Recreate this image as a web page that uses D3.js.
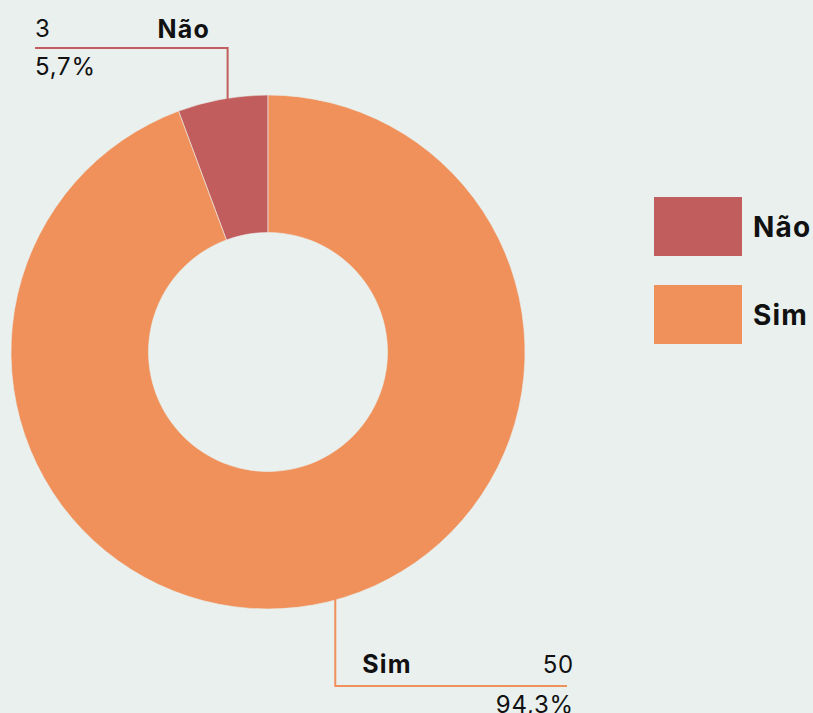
<!DOCTYPE html>
<html><head><meta charset="utf-8">
<script src="https://cdn.jsdelivr.net/npm/d3@7"></script>
<style>
html,body{margin:0;padding:0;background:#E9F0ED;}
svg{display:block;font-family:Inter,"Open Sans",sans-serif;}
</style></head><body>
<svg id="c" width="813" height="713"></svg>
<script>
const categories = ["Não", "Sim"];
const values = [3, 50];
const percentLabels = ["5,7%", "94,3%"];
const colors = ["#C25D5D", "#F0905A"];

const W = 813, H = 713;
const cx = 268, cy = 352, R = 257, r = 119.5;
const svg = d3.select("#c");
svg.append("rect").attr("width", W).attr("height", H).attr("fill", "#E9F0ED");

const total = d3.sum(values);
const start = -2 * Math.PI * values[0] / total;
const pie = d3.pie().sort(null).startAngle(start).endAngle(start + 2 * Math.PI);
const arcs = pie(values);
const arc = d3.arc().innerRadius(r).outerRadius(R);

const g = svg.append("g").attr("transform", `translate(${cx},${cy})`);
g.selectAll("path").data(arcs).join("path")
  .attr("d", arc)
  .attr("fill", (d, i) => colors[i])
  .attr("stroke", "#E9F0ED").attr("stroke-width", 0.6);

function anchor(d, shift) {
  const a = (d.startAngle + d.endAngle) / 2 + shift;
  return [cx + R * Math.sin(a), cy - R * Math.cos(a)];
}
const LS = 0.8;
// Não (top)
{
  const d = arcs[0];
  const [ax, ay] = anchor(d, 0.02);
  const lineY = 48, leftX = 35;
  svg.append("polyline")
    .attr("points", `${ax},${ay + 2} ${ax},${lineY} ${leftX},${lineY}`)
    .attr("fill", "none").attr("stroke", colors[0]).attr("stroke-width", 2);
  svg.append("text").attr("x", leftX).attr("y", 37).attr("font-size", 24)
    .attr("letter-spacing", LS).attr("fill", "#111").text(values[0]);
  svg.append("text").attr("x", leftX).attr("y", 75).attr("font-size", 24)
    .attr("letter-spacing", LS).attr("fill", "#111").text(percentLabels[0]);
  svg.append("text").attr("x", ax - 70).attr("y", 38).attr("font-size", 25)
    .attr("letter-spacing", 1.2).attr("font-weight", 700)
    .attr("fill", "#111").text(categories[0]);
}
// Sim (bottom)
{
  const d = arcs[1];
  const [ax, ay] = anchor(d, -0.087);
  const lineY = 686, rightX = 567;
  svg.append("polyline")
    .attr("points", `${ax},${ay - 2} ${ax},${lineY} ${rightX},${lineY}`)
    .attr("fill", "none").attr("stroke", colors[1]).attr("stroke-width", 2);
  svg.append("text").attr("x", ax + 27).attr("y", 673).attr("font-size", 25)
    .attr("letter-spacing", 1.2).attr("font-weight", 700)
    .attr("fill", "#111").text(categories[1]);
  svg.append("text").attr("x", 574).attr("y", 673).attr("font-size", 24)
    .attr("letter-spacing", LS).attr("text-anchor", "end").attr("fill", "#111").text(values[1]);
  svg.append("text").attr("x", 574).attr("y", 713).attr("font-size", 24)
    .attr("letter-spacing", LS).attr("text-anchor", "end").attr("fill", "#111").text(percentLabels[1]);
}

// legend
const lg = svg.append("g").attr("transform", "translate(654,197)");
const item = lg.selectAll("g").data(categories).join("g")
  .attr("transform", (d, i) => `translate(0,${i * 88})`);
item.append("rect").attr("width", 88).attr("height", 59)
  .attr("fill", (d, i) => colors[i]);
item.append("text").attr("x", 99).attr("y", 40).attr("font-size", 28)
  .attr("letter-spacing", 1.2).attr("font-weight", 700).attr("fill", "#111").text(d => d);
</script>
</body></html>
